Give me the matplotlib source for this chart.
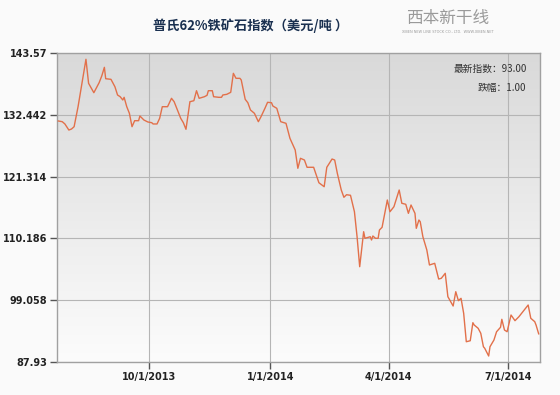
import matplotlib

matplotlib.use("Agg")
import matplotlib.pyplot as plt
from matplotlib.colors import LinearSegmentedColormap
import numpy as np
import pandas as pd

# values
dates = [
    "2013-07-24", "2013-07-27", "2013-07-29", "2013-08-01", "2013-08-03", "2013-08-05",
    "2013-08-08", "2013-08-11", "2013-08-14", "2013-08-16", "2013-08-20", "2013-08-24",
    "2013-08-26", "2013-08-28", "2013-08-29", "2013-09-02", "2013-09-05", "2013-09-07",
    "2013-09-09", "2013-09-11", "2013-09-12", "2013-09-14", "2013-09-16", "2013-09-18",
    "2013-09-20", "2013-09-23", "2013-09-24", "2013-09-27", "2013-09-30", "2013-10-03",
    "2013-10-04", "2013-10-07", "2013-10-09", "2013-10-11", "2013-10-15", "2013-10-18",
    "2013-10-20", "2013-10-25", "2013-10-27", "2013-10-29", "2013-11-01", "2013-11-04",
    "2013-11-06", "2013-11-08", "2013-11-12", "2013-11-14", "2013-11-15", "2013-11-18",
    "2013-11-19", "2013-11-23", "2013-11-25", "2013-11-26", "2013-11-29", "2013-12-02",
    "2013-12-04", "2013-12-06", "2013-12-09", "2013-12-10", "2013-12-13", "2013-12-15",
    "2013-12-17", "2013-12-20", "2013-12-23", "2013-12-25", "2013-12-28", "2013-12-30",
    "2014-01-02", "2014-01-03", "2014-01-06", "2014-01-09", "2014-01-13", "2014-01-16",
    "2014-01-20", "2014-01-22", "2014-01-24", "2014-01-27", "2014-01-29", "2014-02-03",
    "2014-02-07", "2014-02-11", "2014-02-13", "2014-02-17", "2014-02-19", "2014-02-21",
    "2014-02-24", "2014-02-26", "2014-02-28", "2014-03-03", "2014-03-06", "2014-03-08",
    "2014-03-10", "2014-03-13", "2014-03-14", "2014-03-18", "2014-03-19", "2014-03-20",
    "2014-03-22", "2014-03-24", "2014-03-25", "2014-03-27", "2014-03-31", "2014-04-02",
    "2014-04-05", "2014-04-07", "2014-04-09", "2014-04-11", "2014-04-14", "2014-04-16",
    "2014-04-18", "2014-04-21", "2014-04-22", "2014-04-24", "2014-04-25", "2014-04-27",
    "2014-04-30", "2014-05-02", "2014-05-06", "2014-05-09", "2014-05-11", "2014-05-14",
    "2014-05-16", "2014-05-20", "2014-05-22", "2014-05-24", "2014-05-26", "2014-05-28",
    "2014-05-30", "2014-06-02", "2014-06-04", "2014-06-05", "2014-06-08", "2014-06-10",
    "2014-06-12", "2014-06-13", "2014-06-16", "2014-06-17", "2014-06-20", "2014-06-22",
    "2014-06-25", "2014-06-26", "2014-06-28", "2014-06-30", "2014-07-03", "2014-07-06",
    "2014-07-09", "2014-07-11", "2014-07-13", "2014-07-16", "2014-07-18", "2014-07-21",
    "2014-07-22", "2014-07-24",
]
values = [
    131.33, 131.20, 130.79, 129.70, 129.88, 130.30,
    133.90, 138.11, 142.44, 138.11, 136.42, 138.22,
    139.43, 140.99, 138.94, 138.83, 137.50, 136.01,
    135.70, 135.11, 135.59, 133.90, 132.71, 130.30,
    131.38, 131.38, 132.23, 131.51, 131.15, 131.02,
    130.79, 130.79, 131.81, 133.90, 133.90, 135.41,
    134.80, 131.81, 131.02, 129.83, 134.80, 134.98,
    136.78, 135.41, 135.70, 135.95, 136.78, 136.78,
    135.70, 135.59, 135.59, 136.01, 136.13, 136.49,
    139.91, 139.01, 139.01, 138.71, 135.23, 134.62,
    133.31, 132.71, 131.20, 132.10, 133.61, 134.69,
    134.62, 134.03, 133.61, 131.20, 130.91, 128.21,
    126.10, 122.81, 124.61, 124.30, 122.99, 122.99,
    120.21, 119.49, 122.99, 124.48, 124.30, 121.91,
    118.90, 117.59, 118.05, 117.95, 114.99, 110.49,
    105.09, 111.39, 110.20, 110.49, 109.90, 110.62,
    110.20, 110.20, 111.70, 112.18, 117.10, 114.99,
    115.89, 117.41, 118.90, 116.51, 116.33, 114.70,
    116.20, 114.70, 112.00, 113.50, 113.19, 110.49,
    108.10, 105.40, 105.70, 102.87, 103.00, 103.90,
    99.69, 98.01, 100.59, 98.97, 99.40, 96.70,
    91.58, 91.76, 95.01, 94.59, 94.00, 93.10,
    90.68, 90.40, 89.01, 90.68, 91.89, 93.38,
    94.18, 95.62, 93.69, 93.38, 96.39, 95.37,
    96.09, 96.70, 97.29, 98.19, 95.80, 95.19,
    94.59, 93.00,
]

y_ticks = [87.93, 99.058, 110.186, 121.314, 132.442, 143.57]
y_tick_labels = ["87.93", "99.058", "110.186", "121.314", "132.442", "143.57"]
x_ticks = ["2013-10-01", "2014-01-01", "2014-04-01", "2014-07-01"]
x_tick_labels = ["10/1/2013", "1/1/2014", "4/1/2014", "7/1/2014"]
x_range = ["2013-07-23", "2014-07-25"]

title = "普氏62%铁矿石指数（美元/吨 ）"
latest_label = "最新指数："
latest_value = "93.00"
change_label = "跌幅："
change_value = "1.00"

plt.rcParams["font.family"] = ["Noto Sans CJK SC", "DejaVu Sans"]

fig = plt.figure(figsize=(5.6, 3.95), dpi=100)
fig.patch.set_facecolor("#fafafa")

pos = [57 / 560, 1 - 362 / 395, (540 - 57) / 560, (362 - 53) / 395]

# gradient background behind the plot
bg = fig.add_axes(pos, zorder=0)
cmap = LinearSegmentedColormap.from_list("bg", ["#d9d9d9", "#fcfcfc"])
bg.imshow(np.linspace(0, 1, 256).reshape(-1, 1), cmap=cmap, aspect="auto",
          extent=[0, 1, 0, 1])
bg.set_axis_off()

ax = fig.add_axes(pos, zorder=1)
ax.set_facecolor("none")

x = pd.to_datetime(dates)
ax.plot(x, values, color="#e2704a", lw=1.0, zorder=3)

ax.set_ylim(y_ticks[0], y_ticks[-1])
ax.set_xlim(pd.to_datetime(x_range[0]), pd.to_datetime(x_range[1]))
ax.set_yticks(y_ticks)
ax.set_yticklabels(y_tick_labels)
ax.set_xticks(pd.to_datetime(x_ticks))
ax.set_xticklabels(x_tick_labels)

ax.grid(True, color="#b5b5b5", lw=0.8)
ax.set_axisbelow(True)
for s in ax.spines.values():
    s.set_color("#a0a0a0")
    s.set_linewidth(1.0)
ax.tick_params(axis="both", length=5, width=1, color="#555555",
               labelsize=7, labelcolor="#222222", pad=2)
for lab in ax.get_xticklabels() + ax.get_yticklabels():
    lab.set_family("DejaVu Sans")
    lab.set_fontweight("bold")

fig.text(251 / 560, 1 - 26 / 395, title, ha="center", va="center",
         fontsize=9.5, fontweight="bold", color="#1a3050")

# logo
fig.text(0.80, 1 - 19 / 395, "西本新干线", ha="center", va="center",
         fontsize=12, fontstyle="italic", color="#9a9a9a")
fig.text(0.80, 1 - 32 / 395, "XIBEN NEW LINE STOCK CO., LTD.  WWW.XIBEN.NET",
         ha="center", va="center", fontsize=2.5, color="#9a9a9a",
         family="DejaVu Sans")

ax.text(0.972, 0.95, latest_label + latest_value, transform=ax.transAxes,
        ha="right", va="center", fontsize=7, color="#333333")
ax.text(0.972, 0.888, change_label + change_value, transform=ax.transAxes,
        ha="right", va="center", fontsize=7, color="#333333")

fig.savefig("out.png", dpi=100, facecolor=fig.get_facecolor())
